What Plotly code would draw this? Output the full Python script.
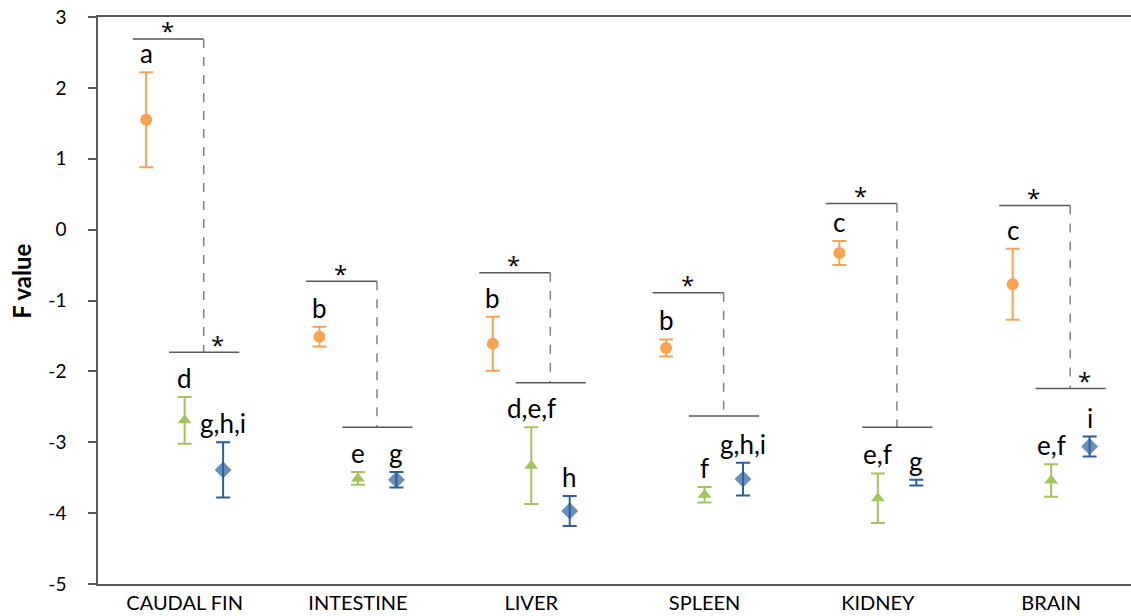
import plotly.graph_objects as go

categories = ["CAUDAL FIN", "INTESTINE", "LIVER", "SPLEEN", "KIDNEY", "BRAIN"]

orange_vals = [1.55, -1.51, -1.61, -1.67, -0.33, -0.77]
orange_err = [0.67, 0.14, 0.38, 0.12, 0.17, 0.50]
orange_letters = ["a", "b", "b", "b", "c", "c"]

green_vals = [-2.69, -3.51, -3.33, -3.74, -3.79, -3.54]
green_err = [0.33, 0.09, 0.54, 0.11, 0.35, 0.23]
green_letters = ["d", "e", "d,e,f", "f", "e,f", "e,f"]

blue_vals = [-3.39, -3.53, -3.97, -3.52, -3.57, -3.06]
blue_err = [0.39, 0.11, 0.21, 0.23, 0.04, 0.14]
blue_letters = ["g,h,i", "g", "h", "g,h,i", "g", "i"]
blue_sizes = [13, 13, 13, 13, 0, 13]

bracket_top = [2.69, -0.73, -0.61, -0.89, 0.37, 0.34]
bracket_low = [-1.73, -2.79, -2.16, -2.63, -2.79, -2.24]
low_star = [True, False, False, False, False, True]

y_ticks = [-5, -4, -3, -2, -1, 0, 1, 2, 3]
y_tick_labels = ["-5", "-4", "-3", "-2", "-1", "0", "1", "2", "3"]

ORANGE = "#F9A254"
GREEN = "#A2C35E"
BLUE = "#2A5E9C"
AXIS = "#595959"
FONT = "Lato"
STAR_FONT = "Open Sans"
OFF = 0.222
CAT_PX = 173.3

xc = list(range(len(categories)))

fig = go.Figure()

series = [
    (orange_vals, orange_err, -OFF, ORANGE, "circle", 12),
    (green_vals, green_err, 0.0, GREEN, "triangle-up", 12),
    (blue_vals, blue_err, OFF, BLUE, "diamond", blue_sizes),
]
for vals, err, off, col, sym, size in series:
    fig.add_trace(go.Scatter(
        x=[x + off for x in xc], y=vals, mode="markers",
        marker=dict(color=col, symbol=sym, size=size, line=dict(width=0)),
        error_y=dict(type="data", array=err, visible=True, color=col,
                     thickness=2, width=7),
        showlegend=False, hoverinfo="skip"))

# letter labels
for vals, err, off, letters in [
    (orange_vals, orange_err, -OFF, orange_letters),
    (green_vals, green_err, 0.0, green_letters),
    (blue_vals, blue_err, OFF, blue_letters),
]:
    for i in xc:
        fig.add_annotation(x=i + off, y=vals[i] + err[i], text=letters[i],
                           showarrow=False, yanchor="bottom", yshift=1,
                           font=dict(size=26, color="black", family=FONT))

# significance brackets
for i in xc:
    fig.add_shape(type="line", x0=i - 0.30, x1=i + 0.11, y0=bracket_top[i],
                  y1=bracket_top[i], line=dict(color=AXIS, width=1.5))
    fig.add_shape(type="line", x0=i + 0.11, x1=i + 0.11, y0=bracket_top[i],
                  y1=bracket_low[i], line=dict(color="#808080", width=1.5,
                                               dash="dash"))
    fig.add_shape(type="line", x0=i - 0.09, x1=i + 0.315, y0=bracket_low[i],
                  y1=bracket_low[i], line=dict(color=AXIS, width=1.5))
    fig.add_annotation(x=i - 0.10, y=bracket_top[i], text="*",
                       showarrow=False, yanchor="middle", yshift=8,
                       font=dict(size=24, color="black", family=STAR_FONT))
    if low_star[i]:
        fig.add_annotation(x=i + 0.19, y=bracket_low[i], text="*",
                           showarrow=False, yanchor="middle", yshift=8,
                           font=dict(size=24, color="black",
                                     family=STAR_FONT))

fig.add_annotation(xref="paper", yref="paper", x=0, y=0.533, xshift=-76,
                   text="<b>F value</b>", textangle=-90, showarrow=False,
                   xanchor="center", yanchor="middle",
                   font=dict(size=24, color="black", family=FONT))

fig.update_layout(
    width=1131, height=616,
    margin=dict(l=98, r=0, t=17, b=32),
    plot_bgcolor="white", paper_bgcolor="white",
    font=dict(family=FONT, color="black"),
    xaxis=dict(range=[-0.5, -0.5 + 1033 / CAT_PX], tickvals=xc,
               ticktext=categories, showline=True, linecolor=AXIS,
               linewidth=1.5, mirror=True, showgrid=False, zeroline=False,
               ticks="", tickfont=dict(size=20, family=FONT),
               fixedrange=True),
    yaxis=dict(range=[-5, 3], tickvals=y_ticks, ticktext=y_tick_labels,
               showline=True, linecolor=AXIS,
               linewidth=1.5, showgrid=False, zeroline=False, ticks="outside",
               ticklen=8, tickcolor=AXIS, tickwidth=1.5,
               ticklabelstandoff=18,
               tickfont=dict(size=19, family=FONT),
               fixedrange=True),
)

fig.write_html("out.html", config={"displayModeBar": False},
               post_script="document.body.style.margin='0';"
                           "document.body.style.overflow='hidden';")
